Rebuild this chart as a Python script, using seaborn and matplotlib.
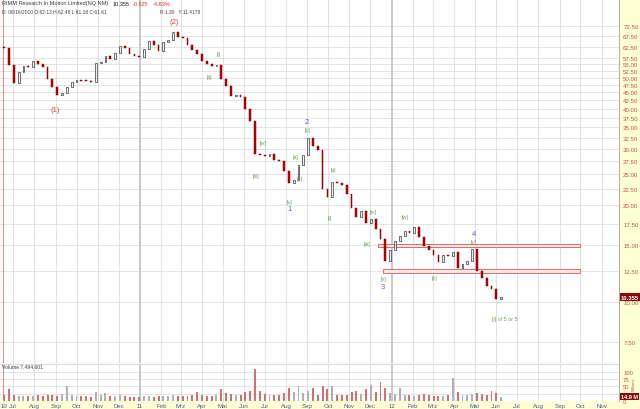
import numpy as np
import pandas as pd
import seaborn as sns
import matplotlib
matplotlib.use("Agg")
import matplotlib.pyplot as plt
import matplotlib.dates as mdates
from matplotlib.patches import Rectangle
from matplotlib.ticker import FixedLocator, NullLocator

# weekly candles, RIMM Jun 2010 - Jun 2012
week_end = pd.date_range("2010-06-18", "2012-06-08", freq="W-FRI")
first_open = 62.13
closes = np.array([
    61.9, 54.8, 48.1, 52.1, 54.4, 54.0, 56.4, 55.2, 54.0, 49.5,
    46.8, 44.2, 44.8, 46.8, 48.5, 49.2, 49.0, 48.8, 48.6, 55.6,
    56.0, 58.4, 57.2, 59.7, 62.8, 61.9, 59.3, 58.4, 58.2, 61.5,
    65.1, 63.2, 60.6, 64.6, 65.6, 69.4, 67.0, 66.6, 63.2, 61.0,
    59.3, 56.4, 55.2, 54.4, 54.8, 49.5, 47.1, 43.9, 44.2, 43.5,
    39.9, 36.7, 28.9, 28.7, 28.5, 28.9, 27.7, 27.5, 25.6, 23.5,
    24.0, 26.7, 28.7, 32.4, 30.6, 29.8, 22.5, 21.2, 23.7, 23.5,
    23.2, 21.7, 19.6, 18.4, 19.2, 17.6, 18.1, 16.9, 15.7, 13.4,
    14.5, 15.5, 16.1, 16.6, 16.4, 17.1, 15.9, 14.9, 14.5, 14.0,
    13.3, 14.0, 13.9, 14.3, 12.8, 13.1, 13.4, 14.6, 12.5, 11.9,
    11.2, 11.0, 10.2, 10.355])
# volume in millions
volume_m = np.array([
    20, 42, 22, 18, 17, 16, 18, 20, 18, 22,
    20, 18, 25, 50, 22, 18, 17, 16, 15, 30,
    20, 28, 18, 17, 22, 16, 14, 15, 14, 16,
    18, 15, 17, 16, 18, 20, 17, 16, 18, 20,
    32, 20, 18, 17, 22, 42, 28, 25, 20, 22,
    30, 35, 110, 35, 25, 22, 20, 22, 28, 45,
    30, 50, 28, 35, 45, 22, 50, 40, 50, 22,
    20, 22, 30, 35, 25, 40, 55, 30, 65, 45,
    28, 25, 45, 22, 20, 18, 22, 25, 20, 18,
    17, 18, 20, 80, 30, 22, 20, 25, 28, 25,
    22, 35, 28, 15])

price_ticks = [7.5, 10, 12.5, 15, 17.5, 20, 22.5, 25, 27.5, 30, 32.5, 35, 37.5,
               40, 42.5, 45, 47.5, 50, 52.5, 55, 57.5, 62.5, 67.5, 72.5]
vol_ticks = [0, 50, 75, 100]
month_dates = ["2010-06-13"] + list(pd.date_range("2010-07-01", "2012-11-01", freq="MS").strftime("%Y-%m-%d"))
month_labels = ["10", "Jul", "Aug", "Sep", "Oct", "Nov", "Dec", "11", "Feb", "Mrz", "Apr", "Mai",
                "Jun", "Jul", "Aug", "Sep", "Oct", "Nov", "Dec", "12", "Feb", "Mrz", "Apr", "Mai",
                "Jun", "Jul", "Aug", "Sep", "Oct", "Nov"]

# support / resistance boxes
band_start = ["2011-12-12", "2011-12-19"]
band_end = ["2012-10-01", "2012-10-01"]
band_lo = [14.8, 12.35]
band_hi = [15.15, 12.65]

# wave counts: text, date, price, colour
waves = [
    ("(1)", "2010-08-31", 39.7, "r"), ("(2)", "2011-02-19", 75.0, "r"),
    ("[i]", "2011-04-26", 59.3, "g"), ("[ii]", "2011-04-12", 50.6, "g"),
    ("[iii]", "2011-06-19", 24.7, "g"), ("[iv]", "2011-06-28", 31.5, "g"),
    ("[v]", "2011-08-06", 20.6, "g"), ("1", "2011-08-06", 19.5, "b"),
    ("[a]", "2011-08-15", 28.5, "g"), ("[b]", "2011-08-21", 24.2, "g"),
    ("[c]", "2011-09-01", 34.6, "g"), ("2", "2011-08-31", 36.6, "b"),
    ("[ii]", "2011-10-09", 25.8, "g"), ("[i]", "2011-10-03", 18.3, "g"),
    ("[iii]", "2011-11-26", 15.2, "g"), ("[iv]", "2011-12-05", 19.2, "g"),
    ("[v]", "2011-12-21", 11.8, "g"), ("3", "2011-12-19", 11.2, "b"),
    ("[w]", "2012-01-20", 18.4, "g"), ("[x]", "2012-03-03", 11.9, "g"),
    ("4", "2012-04-29", 16.3, "b"), ("[y]", "2012-04-29", 15.4, "g"),
    ("[i] of 5 or 5", "2012-06-14", 8.9, "g"),
]
wave_col = {"r": "#d04040", "g": "#6f9a5a", "b": "#5a62d0"}

sns.set_theme(style="white")
plt.rcParams['font.family'] = ['Liberation Sans', 'DejaVu Sans']

fig = plt.figure(figsize=(6.4, 4.1), dpi=100)
fig.patches.append(Rectangle((619 / 640, 0), 21 / 640, 1, transform=fig.transFigure,
                             color="#ffffd4", zorder=-5))
fig.patches.append(Rectangle((0, 0), 1, 8 / 410, transform=fig.transFigure,
                             color="#ffffd4", zorder=-5))

ax = fig.add_axes([0, 1 - 364 / 410, 619 / 640, 364 / 410])
axv = fig.add_axes([0, 8 / 410, 619 / 640, 37 / 410], sharex=ax)

x0, x1 = pd.Timestamp("2010-06-12"), pd.Timestamp("2012-11-26")

opens = np.r_[first_open, closes[:-1]]
up = closes >= opens
lo = np.minimum(opens, closes)
hi = np.maximum(opens, closes)
h = np.maximum(hi - lo, lo * 0.006)

ax.set_yscale("log")
ax.bar(week_end[up], h[up], bottom=lo[up], width=2.6, color="#f2f2f2",
       edgecolor="#222222", linewidth=0.45, zorder=3)
ax.bar(week_end[~up], h[~up], bottom=lo[~up], width=2.6, color="#c00000",
       edgecolor="#7a0000", linewidth=0.35, zorder=3)

for s, e, l, u in zip(band_start, band_end, band_lo, band_hi):
    s_n, e_n = mdates.date2num(pd.Timestamp(s)), mdates.date2num(pd.Timestamp(e))
    ax.add_patch(Rectangle((s_n, l), e_n - s_n, u - l, facecolor="#fbe6e6",
                           edgecolor="#d05a5a", linewidth=0.6, zorder=2))

for txt, d, p, c in waves:
    big = txt in ("(1)", "(2)", "1", "2", "3", "4")
    ax.text(pd.Timestamp(d), p, txt, color=wave_col[c], fontsize=5.5 if big else 3.9,
            ha="center", va="center", zorder=5)

ax.set_ylim(6.45, 88.0)
ax.set_xlim(x0, x1)
ax.yaxis.set_major_locator(FixedLocator(price_ticks))
ax.yaxis.set_minor_locator(NullLocator())
ax.set_yticklabels([f"{v:.2f}" for v in price_ticks])
ax.yaxis.tick_right()
ax.tick_params(axis="y", length=0, pad=3, labelsize=4.4, labelcolor="#c05050")
ax.tick_params(axis="x", length=0, labelbottom=False)
for v in price_ticks:
    ax.axhline(v, color="#dedede", lw=0.6, zorder=0)

# volume
vcol = np.where(up, "#b0b0b0", "#d07070")
axv.bar(week_end, volume_m, width=2.8, color=vcol, linewidth=0, zorder=3)
axv.set_ylim(0, 127)
axv.set_yticks(vol_ticks)
axv.set_yticklabels([str(v) for v in vol_ticks])
axv.yaxis.tick_right()
axv.tick_params(axis="y", length=0, pad=3, labelsize=4.2, labelcolor="#c05050")
for v in [25, 50, 75, 100]:
    axv.axhline(v, color="#dedede", lw=0.6, zorder=0)

axv.set_xticks(pd.to_datetime(month_dates))
axv.set_xticklabels(month_labels)
axv.tick_params(axis="x", length=0, pad=1.5, labelsize=4.4, labelcolor="#3c5aa8")
axv.get_xticklabels()[0].set_ha("left")
axv.set_xlim(x0, x1)

for a in (ax, axv):
    for d in pd.to_datetime(month_dates[1:]):
        yr = d.month == 1
        a.axvline(d, color="#c4c4c4" if yr else "#dadada", lw=1.3 if yr else 0.6, zorder=0)
    a.axvline(pd.Timestamp("2010-06-16"), color="#e07070", lw=0.6, zorder=1)
    for sp in a.spines.values():
        sp.set_visible(False)
    a.spines["right"].set_visible(True)
    a.spines["right"].set_color("#a0a0a0")
    a.spines["right"].set_linewidth(0.6)
    a.set_facecolor("white")
axv.spines["top"].set_visible(True)
axv.spines["top"].set_color("#cccccc")
axv.spines["top"].set_linewidth(0.5)

# price and volume tags
ax.annotate("10.355", xy=(1.0, 10.355), xycoords=("axes fraction", "data"),
            xytext=(1.2, 0), textcoords="offset points", ha="left", va="center",
            fontsize=4.2, color="white", fontweight="bold",
            bbox=dict(boxstyle="square,pad=0.2", fc="#8a0a0a", ec="none"), annotation_clip=False)
axv.annotate("14.9 M", xy=(1.0, 14.9), xycoords=("axes fraction", "data"),
             xytext=(1.2, 0), textcoords="offset points", ha="left", va="center",
             fontsize=4.0, color="white", fontweight="bold",
             bbox=dict(boxstyle="square,pad=0.2", fc="#8a0a0a", ec="none"), annotation_clip=False)
fig.text(634 / 640, 1 - 384 / 410, "Millions", rotation=90, fontsize=3.0,
         color="#d05050", ha="center", va="center")

# header
fig.text(2 / 640, 1 - 4 / 410, "RIMM Research In Motion Limited(NQ NM)", fontsize=4.0,
         color="#404040", va="center")
fig.text(113 / 640, 1 - 4 / 410, "10.355", fontsize=4.0, color="#202020", va="center")
fig.text(133 / 640, 1 - 4 / 410, "-0.525", fontsize=4.0, color="#e03030", va="center")
fig.text(153 / 640, 1 - 4 / 410, "-4.83%", fontsize=4.0, color="#e03030", va="center")
fig.text(2 / 640, 1 - 12 / 410, "D: 06/16/2010 O:62.13 H:62.48 L:61.18 C:61.61",
         fontsize=3.5, color="#404040", va="center")
fig.text(160 / 640, 1 - 12 / 410, "R:1.30   Y:11.4178", fontsize=3.5, color="#404040", va="center")
fig.text(2 / 640, 1 - 367 / 410, "Volume 7,494,601", fontsize=3.6, color="#404040", va="center")

fig.savefig("out.png", dpi=100, facecolor="white")
